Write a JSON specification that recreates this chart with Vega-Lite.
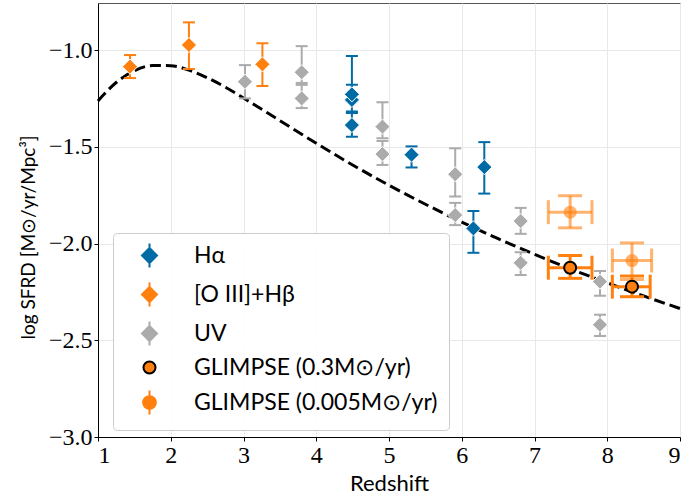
{
  "$schema": "https://vega.github.io/schema/vega-lite/v6.json",
  "width": 582,
  "height": 434,
  "autosize": {"type": "none"},
  "padding": {"left": 98, "top": 3, "right": 4, "bottom": 62},
  "background": "white",
  "config": {
    "view": {"stroke": "#555555", "strokeWidth": 1},
    "axis": {
      "grid": true,
      "gridColor": "#e8e8e8",
      "gridWidth": 1,
      "domainColor": "black",
      "domainWidth": 1,
      "tickColor": "black",
      "tickSize": 4,
      "labelColor": "black",
      "titleColor": "black",
      "labelFont": "Liberation Serif",
      "labelFontSize": 24,
      "titleFont": "Lato",
      "titleFontSize": 22,
      "titleFontWeight": "normal"
    },
    "legend": {
      "orient": "none",
      "legendX": 15,
      "legendY": 230,
      "padding": 11,
      "rowPadding": 6,
      "symbolSize": 225,
      "symbolStrokeWidth": 2,
      "symbolOffset": 14,
      "labelOffset": 33,
      "labelFont": "Lato",
      "labelFontSize": 23,
      "labelColor": "black",
      "labelLimit": 400,
      "strokeColor": "#cccccc",
      "fillColor": "rgba(255,255,255,0.9)",
      "cornerRadius": 4
    }
  },
  "datasets": {
    "curve": [
      {"z": 1.0, "sfrd": -1.263},
      {"z": 1.25, "sfrd": -1.168},
      {"z": 1.5, "sfrd": -1.107},
      {"z": 1.75, "sfrd": -1.080},
      {"z": 2.0, "sfrd": -1.081},
      {"z": 2.25, "sfrd": -1.104},
      {"z": 2.5, "sfrd": -1.143},
      {"z": 2.75, "sfrd": -1.192},
      {"z": 3.0, "sfrd": -1.248},
      {"z": 3.5, "sfrd": -1.365},
      {"z": 4.0, "sfrd": -1.482},
      {"z": 4.5, "sfrd": -1.594},
      {"z": 5.0, "sfrd": -1.699},
      {"z": 5.5, "sfrd": -1.797},
      {"z": 6.0, "sfrd": -1.889},
      {"z": 6.5, "sfrd": -1.975},
      {"z": 7.0, "sfrd": -2.056},
      {"z": 7.5, "sfrd": -2.132},
      {"z": 8.0, "sfrd": -2.203},
      {"z": 8.5, "sfrd": -2.271},
      {"z": 9.0, "sfrd": -2.336}
    ],
    "lit": [
      {"s": "[O III]+Hβ", "z": 1.44, "y": -1.086, "lo": -1.145, "hi": -1.026},
      {"s": "[O III]+Hβ", "z": 2.25, "y": -0.974, "lo": -1.098, "hi": -0.857},
      {"s": "UV", "z": 3.02, "y": -1.164, "lo": -1.25, "hi": -1.078},
      {"s": "[O III]+Hβ", "z": 3.26, "y": -1.074, "lo": -1.186, "hi": -0.965},
      {"s": "UV", "z": 3.80, "y": -1.115, "lo": -1.17, "hi": -0.98},
      {"s": "UV", "z": 3.80, "y": -1.25, "lo": -1.30, "hi": -1.18},
      {"s": "Hα", "z": 4.49, "y": -1.388, "lo": -1.448, "hi": -1.325},
      {"s": "Hα", "z": 4.49, "y": -1.258, "lo": -1.318, "hi": -1.18},
      {"s": "Hα", "z": 4.49, "y": -1.229, "lo": -1.26, "hi": -1.031},
      {"s": "UV", "z": 4.91, "y": -1.396, "lo": -1.456, "hi": -1.27},
      {"s": "UV", "z": 4.91, "y": -1.538, "lo": -1.594, "hi": -1.47},
      {"s": "Hα", "z": 5.31, "y": -1.541, "lo": -1.607, "hi": -1.498},
      {"s": "UV", "z": 5.91, "y": -1.642, "lo": -1.757, "hi": -1.508},
      {"s": "UV", "z": 5.91, "y": -1.853, "lo": -1.905, "hi": -1.79},
      {"s": "Hα", "z": 6.16, "y": -1.922, "lo": -2.048, "hi": -1.832},
      {"s": "Hα", "z": 6.31, "y": -1.605, "lo": -1.742, "hi": -1.476},
      {"s": "UV", "z": 6.81, "y": -1.884, "lo": -1.95, "hi": -1.816},
      {"s": "UV", "z": 6.81, "y": -2.10, "lo": -2.163, "hi": -2.045},
      {"s": "UV", "z": 7.90, "y": -2.197, "lo": -2.27, "hi": -2.142},
      {"s": "UV", "z": 7.90, "y": -2.42, "lo": -2.478, "hi": -2.368}
    ],
    "g005": [
      {"s": "GLIMPSE (0.005M⊙/yr)", "z": 7.49, "y": -1.838, "lo": -1.919, "hi": -1.753, "zlo": 7.19, "zhi": 7.79},
      {"s": "GLIMPSE (0.005M⊙/yr)", "z": 8.34, "y": -2.088, "lo": -2.186, "hi": -1.997, "zlo": 8.07, "zhi": 8.61}
    ],
    "g03": [
      {"s": "GLIMPSE (0.3M⊙/yr)", "z": 7.49, "y": -2.125, "lo": -2.18, "hi": -2.062, "zlo": 7.19, "zhi": 7.79},
      {"s": "GLIMPSE (0.3M⊙/yr)", "z": 8.34, "y": -2.223, "lo": -2.275, "hi": -2.168, "zlo": 8.07, "zhi": 8.59}
    ]
  },
  "layer": [
    {
      "data": {"name": "curve"},
      "mark": {"type": "line", "color": "black", "strokeWidth": 3, "strokeDash": [11, 5], "interpolate": "monotone"},
      "encoding": {
        "x": {"field": "z", "type": "quantitative", "scale": {"domain": [1, 9], "nice": false, "zero": false},
              "axis": {"title": "Redshift", "values": [1,2,3,4,5,6,7,8,9], "format": "d", "labelPadding": 2, "titlePadding": 6}},
        "y": {"field": "sfrd", "type": "quantitative", "scale": {"domain": [-3, -0.757], "nice": false, "zero": false},
              "axis": {"title": "log SFRD [M⊙/yr/Mpc³]", "values": [-3, -2.5, -2, -1.5, -1], "format": ".1f", "labelPadding": 2, "titlePadding": 10, "titleY": 234, "titleFontSize": 19}}
      }
    },
    {
      "data": {"name": "g03"},
      "transform": [{"filter": "false"}],
      "mark": {"type": "point", "filled": true, "opacity": 1, "strokeWidth": 2},
      "encoding": {
        "x": {"field": "z", "type": "quantitative"},
        "y": {"field": "y", "type": "quantitative"},
        "fill": {
          "field": "s", "type": "nominal",
          "scale": {
            "domain": ["Hα", "[O III]+Hβ", "UV", "GLIMPSE (0.3M⊙/yr)", "GLIMPSE (0.005M⊙/yr)"],
            "range": ["#006BA4", "#FF800E", "#ABABAB", "#FF800E", "#FF800E"]
          },
          "legend": {"title": null}
        },
        "shape": {
          "field": "s", "type": "nominal",
          "scale": {
            "domain": ["Hα", "[O III]+Hβ", "UV", "GLIMPSE (0.3M⊙/yr)", "GLIMPSE (0.005M⊙/yr)"],
            "range": [
              "M0,-1.6L0,1.6M0,-1L1,0L0,1L-1,0Z",
              "M0,-1.6L0,1.6M0,-1L1,0L0,1L-1,0Z",
              "M0,-1.6L0,1.6M0,-1L1,0L0,1L-1,0Z",
              "M0.8,0A0.8,0.8,0,1,1,-0.8,0A0.8,0.8,0,1,1,0.8,0Z",
              "M0,-1.6L0,1.6M0.85,0A0.85,0.85,0,1,1,-0.85,0A0.85,0.85,0,1,1,0.85,0Z"
            ]
          },
          "legend": {"title": null}
        },
        "stroke": {
          "field": "s", "type": "nominal",
          "scale": {
            "domain": ["Hα", "[O III]+Hβ", "UV", "GLIMPSE (0.3M⊙/yr)", "GLIMPSE (0.005M⊙/yr)"],
            "range": ["#006BA4", "#FF800E", "#ABABAB", "black", "#FF800E"]
          },
          "legend": {"title": null}
        }
      }
    },
    {
      "data": {"name": "lit"},
      "mark": {"type": "rule", "strokeWidth": 2, "opacity": 1},
      "encoding": {
        "x": {"field": "z", "type": "quantitative"},
        "y": {"field": "lo", "type": "quantitative"},
        "y2": {"field": "hi"},
        "stroke": {"field": "s", "type": "nominal", "legend": {"title": null}}
      }
    },
    {
      "data": {"name": "lit"},
      "mark": {"type": "tick", "orient": "horizontal", "size": 12, "thickness": 2, "opacity": 1},
      "encoding": {
        "x": {"field": "z", "type": "quantitative"},
        "y": {"field": "lo", "type": "quantitative"},
        "fill": {"field": "s", "type": "nominal", "legend": {"title": null}}
      }
    },
    {
      "data": {"name": "lit"},
      "mark": {"type": "tick", "orient": "horizontal", "size": 12, "thickness": 2, "opacity": 1},
      "encoding": {
        "x": {"field": "z", "type": "quantitative"},
        "y": {"field": "hi", "type": "quantitative"},
        "fill": {"field": "s", "type": "nominal", "legend": {"title": null}}
      }
    },
    {
      "data": {"name": "lit"},
      "mark": {"type": "point", "shape": "diamond", "filled": true, "size": 230, "stroke": "white", "strokeWidth": 1, "opacity": 1},
      "encoding": {
        "x": {"field": "z", "type": "quantitative"},
        "y": {"field": "y", "type": "quantitative"},
        "fill": {"field": "s", "type": "nominal", "legend": {"title": null}}
      }
    },
    {
      "data": {"name": "g005"},
      "mark": {"type": "rule", "strokeWidth": 3, "opacity": 0.6},
      "encoding": {
        "x": {"field": "z", "type": "quantitative"},
        "y": {"field": "lo", "type": "quantitative"},
        "y2": {"field": "hi"},
        "stroke": {"field": "s", "type": "nominal", "legend": {"title": null}}
      }
    },
    {
      "data": {"name": "g005"},
      "mark": {"type": "rule", "strokeWidth": 3, "opacity": 0.6},
      "encoding": {
        "x": {"field": "zlo", "type": "quantitative"},
        "x2": {"field": "zhi"},
        "y": {"field": "y", "type": "quantitative"},
        "stroke": {"field": "s", "type": "nominal", "legend": {"title": null}}
      }
    },
    {
      "data": {"name": "g005"},
      "mark": {"type": "tick", "orient": "horizontal", "size": 24, "thickness": 3, "opacity": 0.6},
      "encoding": {
        "x": {"field": "z", "type": "quantitative"},
        "y": {"field": "lo", "type": "quantitative"},
        "fill": {"field": "s", "type": "nominal", "legend": {"title": null}}
      }
    },
    {
      "data": {"name": "g005"},
      "mark": {"type": "tick", "orient": "horizontal", "size": 24, "thickness": 3, "opacity": 0.6},
      "encoding": {
        "x": {"field": "z", "type": "quantitative"},
        "y": {"field": "hi", "type": "quantitative"},
        "fill": {"field": "s", "type": "nominal", "legend": {"title": null}}
      }
    },
    {
      "data": {"name": "g005"},
      "mark": {"type": "tick", "orient": "vertical", "size": 24, "thickness": 3, "opacity": 0.6},
      "encoding": {
        "x": {"field": "zlo", "type": "quantitative"},
        "y": {"field": "y", "type": "quantitative"},
        "fill": {"field": "s", "type": "nominal", "legend": {"title": null}}
      }
    },
    {
      "data": {"name": "g005"},
      "mark": {"type": "tick", "orient": "vertical", "size": 24, "thickness": 3, "opacity": 0.6},
      "encoding": {
        "x": {"field": "zhi", "type": "quantitative"},
        "y": {"field": "y", "type": "quantitative"},
        "fill": {"field": "s", "type": "nominal", "legend": {"title": null}}
      }
    },
    {
      "data": {"name": "g005"},
      "mark": {"type": "point", "shape": "circle", "filled": true, "size": 169, "strokeWidth": 0, "opacity": 0.6},
      "encoding": {
        "x": {"field": "z", "type": "quantitative"},
        "y": {"field": "y", "type": "quantitative"},
        "fill": {"field": "s", "type": "nominal", "legend": {"title": null}}
      }
    },
    {
      "data": {"name": "g03"},
      "mark": {"type": "rule", "strokeWidth": 3, "opacity": 1, "color": "#FF800E"},
      "encoding": {
        "x": {"field": "z", "type": "quantitative"},
        "y": {"field": "lo", "type": "quantitative"},
        "y2": {"field": "hi"}
      }
    },
    {
      "data": {"name": "g03"},
      "mark": {"type": "rule", "strokeWidth": 3, "opacity": 1, "color": "#FF800E"},
      "encoding": {
        "x": {"field": "zlo", "type": "quantitative"},
        "x2": {"field": "zhi"},
        "y": {"field": "y", "type": "quantitative"}
      }
    },
    {
      "data": {"name": "g03"},
      "mark": {"type": "tick", "orient": "horizontal", "size": 24, "thickness": 3, "opacity": 1},
      "encoding": {
        "x": {"field": "z", "type": "quantitative"},
        "y": {"field": "lo", "type": "quantitative"},
        "fill": {"field": "s", "type": "nominal", "legend": {"title": null}}
      }
    },
    {
      "data": {"name": "g03"},
      "mark": {"type": "tick", "orient": "horizontal", "size": 24, "thickness": 3, "opacity": 1},
      "encoding": {
        "x": {"field": "z", "type": "quantitative"},
        "y": {"field": "hi", "type": "quantitative"},
        "fill": {"field": "s", "type": "nominal", "legend": {"title": null}}
      }
    },
    {
      "data": {"name": "g03"},
      "mark": {"type": "tick", "orient": "vertical", "size": 24, "thickness": 3, "opacity": 1},
      "encoding": {
        "x": {"field": "zlo", "type": "quantitative"},
        "y": {"field": "y", "type": "quantitative"},
        "fill": {"field": "s", "type": "nominal", "legend": {"title": null}}
      }
    },
    {
      "data": {"name": "g03"},
      "mark": {"type": "tick", "orient": "vertical", "size": 24, "thickness": 3, "opacity": 1},
      "encoding": {
        "x": {"field": "zhi", "type": "quantitative"},
        "y": {"field": "y", "type": "quantitative"},
        "fill": {"field": "s", "type": "nominal", "legend": {"title": null}}
      }
    },
    {
      "data": {"name": "g03"},
      "mark": {"type": "point", "shape": "circle", "filled": true, "size": 144, "stroke": "black", "strokeWidth": 2, "opacity": 1},
      "encoding": {
        "x": {"field": "z", "type": "quantitative"},
        "y": {"field": "y", "type": "quantitative"},
        "fill": {"field": "s", "type": "nominal", "legend": {"title": null}}
      }
    }
  ]
}
